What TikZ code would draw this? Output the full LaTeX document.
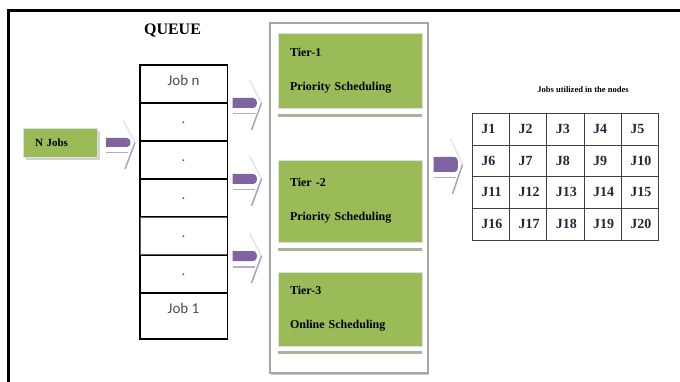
\documentclass[tikz,border=0pt]{standalone}
\usepackage{fontspec}
\setmainfont{Liberation Serif}
\newfontfamily\qfont{Carlito}
\usetikzlibrary{positioning,shadows}
\definecolor{tiergreen}{HTML}{9BBB59}
\definecolor{arrowviolet}{HTML}{8064A2}
\definecolor{arrowlight}{HTML}{B7A9CC}
\definecolor{shelfgray}{HTML}{A9B39A}
\definecolor{celltext}{HTML}{2E2238}

\begin{document}
\begin{tikzpicture}[x=1pt,y=-1pt,
		greenbox/.style={rectangle,fill=tiergreen,draw=gray!25,line width=0.8pt,inner sep=0},
		qrow/.style={rectangle,draw,line width=1pt,minimum width=87pt,minimum height=37pt,inner sep=0,
			text height=20pt,text depth=17pt,font=\qfont\fontsize{15}{15}\selectfont,text=gray!60!black},
		tiertext/.style={align=left,text width=120pt,font=\bfseries\fontsize{12}{34}\selectfont},
		cell/.style={rectangle,draw=black!75,line width=0.9pt,anchor=north west,inner xsep=9pt,inner ysep=0,
			text width=19.2pt,minimum height=31.75pt,text height=20pt,text depth=11.75pt,
			font=\bfseries\fontsize{14}{14}\selectfont,text=celltext},
		shelf/.style={draw=shelfgray,line width=3pt},
		pics/jobarrow/.style={code={
			\fill[arrowlight] (-12,#1+5) rectangle (10,#1+6.5);
			\draw[gray!20,line width=1.5pt] (5,-#1-18) -- (17,0);
			\draw[arrowlight!80!gray,line width=1.5pt] (17,0) -- (7,#1+22);
			\fill[arrowviolet] (-12,-#1) -- (9,-#1) to[out=0,in=90] (12.5,0) to[out=-90,in=0] (9,#1) -- (-12,#1) -- cycle;
		}}]
		\useasboundingbox (0,0) rectangle (680,382);
		% outer frame
		\draw[line width=3pt] (680,10.5) -- (8.5,10.5) -- (8.5,382);
		\node[font=\bfseries\fontsize{16}{16}\selectfont] (queue) at (172.5,31) {QUEUE};
		\node[greenbox,minimum width=74pt,minimum height=29pt,inner xsep=12pt,text width=50pt,align=left,
			font=\bfseries\fontsize{11}{11}\selectfont,
			drop shadow={shadow xshift=3pt,shadow yshift=-3pt,fill=gray!35,opacity=1}] (njobs) at (60,142.5) {N Jobs};
		% queue
		\node[qrow,anchor=north] (q1) at (183.5,65) {Job n};
		\node[qrow,below=0pt of q1,text=tiergreen!50!black] (q2) {.};
		\node[qrow,below=0pt of q2,text=tiergreen!50!black] (q3) {.};
		\node[qrow,below=0pt of q3,text=tiergreen!50!black] (q4) {.};
		\node[qrow,below=0pt of q4,draw=gray!70!black,text=tiergreen!50!black] (q5) {.};
		\node[qrow,below=0pt of q5,text=tiergreen!50!black] (q6) {.};
		\node[qrow,below=0pt of q6,minimum height=45pt,text depth=25pt] (q7) {Job 1};
		\draw[line width=1pt] (q1.north west) rectangle (q7.south east);
		% tiers
		\node[draw=gray!70,line width=1.2pt,fill=white,minimum width=158pt,minimum height=350pt,inner sep=0,
			drop shadow={shadow xshift=1pt,shadow yshift=-2pt,fill=gray!40,opacity=1}] (tiers) at (349,198) {};
		\node[greenbox,tiertext,minimum width=144pt,minimum height=75pt] (tier1) at (350,70.5) {Tier-1\\Priority Scheduling};
		\node[greenbox,tiertext,minimum width=144pt,minimum height=82pt] (tier2) at (350,201) {Tier -2\\Priority Scheduling};
		\node[greenbox,tiertext,minimum width=144pt,minimum height=74pt] (tier3) at (350,309) {Tier-3\\Online Scheduling};
		\draw[shelf] ([yshift=-7pt]tier1.south west) -- ([yshift=-7pt]tier1.south east);
		\draw[shelf] ([yshift=-7pt]tier2.south west) -- ([yshift=-7pt]tier2.south east);
		\draw[shelf] ([yshift=-6pt]tier3.south west) -- ([yshift=-6pt]tier3.south east);
		% block arrows
		\pic (a0) at (118,142.5) {jobarrow=4.5};
		\pic (a1) at (244.5,103) {jobarrow=5};
		\pic (a2) at (244.5,179) {jobarrow=5};
		\pic (a3) at (244.5,256) {jobarrow=5};
		\pic (a4) at (445.5,164.5) {jobarrow=7.5};
		% jobs table
		\node[font=\bfseries\fontsize{8.5}{8.5}\selectfont] (tabcap) at (583,90) {Jobs utilized in the nodes};
		\foreach \n in {1,...,20}{
			\pgfmathtruncatemacro\col{mod(\n-1,5)}
			\pgfmathtruncatemacro\row{(\n-1)/5}
			\node[cell] (c\n) at (472+37.2*\col,113+31.75*\row) {J\n};
		}
	\end{tikzpicture}
\end{document}
